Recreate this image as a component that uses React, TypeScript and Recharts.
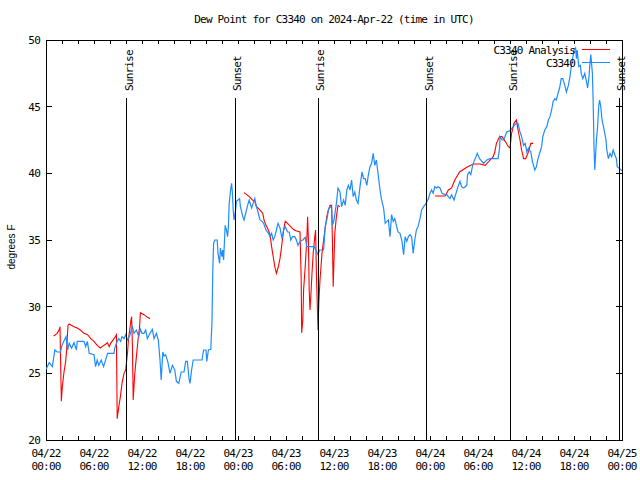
import React from 'react';
import { LineChart, Line, XAxis, YAxis, ReferenceLine, ReferenceArea, Legend } from 'recharts';

// Hours since 2024-04-22 00:00 UTC
const obsHours = [
  0, 0.4, 0.8, 1.1, 1.4, 1.8, 2.0, 2.3, 2.5, 2.7,
  2.9, 3.2, 3.5, 3.8, 3.9, 4.3, 4.75, 4.96, 5.17, 5.4,
  6.0, 6.2, 6.4, 6.6, 6.9, 7.2, 7.5, 7.7, 8.1, 8.5,
  8.6, 8.9, 9.1, 9.33, 9.5, 9.75, 9.96, 10.2, 10.5, 10.8,
  11.0, 11.3, 11.6, 11.8, 12.0, 12.25, 12.46, 12.67, 13.0, 13.3,
  13.5, 13.8, 14.04, 14.25, 14.4, 14.6, 14.75, 14.96, 15.25, 15.5,
  15.8, 16.1, 16.3, 16.6, 16.9, 17.25, 17.46, 17.67, 17.875, 18.0,
  18.2, 18.4, 18.8, 19.5, 19.7, 20.0, 20.1, 20.3, 20.6, 20.75,
  20.85, 20.95, 21.1, 21.4, 21.5, 21.7, 21.8, 22.0, 22.1, 22.2,
  22.4, 22.55, 22.7, 22.8, 22.9, 23.1, 23.2, 23.3, 23.4, 23.5,
  23.7, 23.8, 24.2, 24.3, 24.6, 24.75, 25.0, 25.2, 25.4, 25.7,
  25.9, 26.1, 26.3, 26.5, 26.75, 27.0, 27.2, 27.5, 27.8, 28.0,
  28.2, 28.4, 28.6, 28.8, 29.0, 29.25, 29.5, 29.7, 29.9, 30.2,
  30.4, 30.6, 30.8, 31.1, 31.3, 31.5, 31.75, 32.1, 32.4, 32.6,
  32.8, 33.2, 33.5, 33.75, 34.0, 34.2, 34.5, 34.7, 34.9, 35.1,
  35.3, 35.5, 35.7, 35.8, 36.0, 36.3, 36.5, 36.75, 36.95, 37.2,
  37.4, 37.6, 37.8, 38.0, 38.2, 38.4, 38.6, 38.8, 39.0, 39.25,
  39.5, 39.7, 39.9, 40.1, 40.3, 40.5, 40.7, 40.9, 41.1, 41.3,
  41.5, 41.75, 41.95, 42.2, 42.4, 42.6, 42.8, 43.0, 43.2, 43.4,
  43.6, 43.8, 44.0, 44.25, 44.5, 44.7, 44.9, 45.1, 45.3, 45.5,
  45.7, 45.9, 46.1, 46.3, 46.5, 46.75, 46.95, 47.2, 47.5, 47.8,
  48.0, 48.2, 48.4, 48.6, 48.8, 49.0, 49.25, 49.5, 49.9, 50.1,
  50.3, 50.5, 50.7, 51.0, 51.25, 51.5, 51.75, 51.95, 52.2, 52.4,
  52.6, 52.7, 52.9, 53.1, 53.3, 53.5, 53.75, 53.9, 54.2, 54.7,
  55.1, 55.5, 56.5, 56.7, 56.75, 57.0, 57.2, 57.6, 58.0, 58.4,
  58.8, 59.0, 59.25, 59.45, 59.7, 59.9, 60.1, 60.3, 60.6, 60.8,
  61.1, 61.3, 61.5, 61.75, 61.95, 62.1, 62.35, 62.6, 62.8, 63.0,
  63.2, 63.4, 63.6, 63.8, 64.0, 64.2, 64.4, 64.6, 64.85, 65.05,
  65.3, 65.5, 65.6, 65.8, 66.0, 66.2, 66.3, 66.4, 66.6, 66.8,
  66.9, 67.1, 67.35, 67.55, 67.7, 67.85, 68.0, 68.1, 68.3, 68.4,
  68.5, 68.6, 68.8, 68.95, 69.1, 69.2, 69.35, 69.5, 69.65, 69.85,
  70.0, 70.1, 70.3, 70.5, 70.7, 70.9, 71.1, 71.3, 71.4, 71.6,
  72.0,
];

const obsDewPoint = [
  25.3, 25.8, 25.5, 26.75, 26.6, 26.6, 27.1, 27.5, 27.75, 26.75,
  27.25, 26.9, 27.3, 26.75, 27.4, 27.4, 27.4, 27.0, 27.4, 26.5,
  26.4, 25.5, 26.0, 25.6, 26.0, 25.5, 26.1, 26.5, 26.5, 26.5,
  26.9, 27.4, 27.6, 27.4, 27.75, 27.6, 27.9, 27.5, 27.9, 28.5,
  28.0, 28.25, 27.75, 28.3, 28.0, 28.0, 28.25, 27.6, 28.0, 28.3,
  27.6, 28.0, 27.5, 26.0, 24.5, 26.6, 26.3, 26.4, 25.8, 25.0,
  25.6, 25.25, 24.4, 24.25, 25.1, 25.1, 25.9, 25.9, 24.6, 24.25,
  25.25, 26.0, 26.0, 26.0, 26.75, 26.75, 25.9, 26.75, 26.8, 28.9,
  32.75, 34.75, 35.0, 35.0, 34.0, 33.25, 34.4, 33.75, 34.25, 33.5,
  36.1, 35.75, 35.25, 36.0, 37.75, 38.9, 39.25, 38.5, 37.25, 36.5,
  37.25, 37.9, 38.1, 37.5, 36.75, 36.5, 37.1, 37.6, 38.0, 37.4,
  37.75, 38.1, 37.5, 37.1, 36.5, 36.4, 36.25, 35.75, 35.5, 35.25,
  35.5, 35.0, 35.25, 35.75, 36.25, 35.9, 35.1, 35.75, 36.0, 35.6,
  35.6, 35.0, 35.25, 35.25, 35.0, 34.6, 34.9, 35.0, 35.2, 34.5,
  34.5, 34.5, 34.5, 34.25, 33.9, 34.25, 34.25, 34.25, 36.0, 36.5,
  37.25, 37.5, 37.4, 36.1, 36.5, 37.75, 38.9, 38.6, 37.5, 38.0,
  37.6, 38.75, 39.1, 38.75, 39.5, 38.25, 38.6, 38.0, 37.75, 39.0,
  40.1, 39.6, 39.6, 39.1, 39.9, 40.5, 40.75, 41.5, 40.6, 41.0,
  40.0, 38.75, 38.0, 37.4, 36.25, 36.4, 36.5, 35.25, 36.9, 36.4,
  36.6, 36.1, 35.6, 35.5, 34.9, 33.9, 35.25, 34.9, 35.25, 35.4,
  35.25, 34.0, 35.0, 35.75, 36.0, 36.6, 37.25, 37.5, 37.75, 38.1,
  38.5, 38.75, 38.5, 39.0, 38.9, 39.0, 38.9, 38.5, 38.4, 38.4,
  38.25, 38.1, 38.4, 38.0, 38.5, 39.0, 39.4, 39.0, 38.9, 39.0,
  39.1, 39.9, 40.1, 39.9, 40.5, 40.9, 41.25, 41.5, 41.1, 40.75,
  41.0, 41.1, 41.1, 41.9, 42.75, 42.5, 42.5, 43.1, 43.2, 43.5,
  43.75, 43.75, 43.1, 42.75, 42.1, 42.25, 41.6, 41.9, 41.6, 40.9,
  40.25, 40.5, 41.1, 41.6, 42.0, 42.75, 43.25, 43.5, 44.0, 44.25,
  44.75, 45.4, 45.6, 45.5, 46.0, 46.4, 47.1, 47.1, 46.6, 46.1,
  46.6, 47.25, 47.75, 48.5, 49.25, 49.4, 48.6, 49.25, 48.0, 48.1,
  47.5, 47.1, 47.5, 46.9, 46.4, 47.1, 48.25, 48.9, 47.5, 45.25,
  42.0, 40.25, 42.5, 43.5, 45.1, 45.5, 45.0, 44.0, 43.6, 43.0,
  42.5, 41.75, 41.1, 41.5, 41.25, 41.75, 41.4, 41.1, 40.5, 40.4,
  40.2,
];

const anaHours = [
  0.96, 1.4, 1.67, 1.75, 1.83, 1.92, 2.04, 2.25, 2.46, 2.58,
  2.75, 2.9, 3.5, 3.9, 4.3, 4.75, 5.2, 5.6, 6.0, 6.4,
  6.8, 7.0, 7.5, 7.67, 7.9, 8.08, 8.5, 8.8, 8.85, 8.9,
  9.1, 9.3, 9.5, 9.75, 9.96, 10.2, 10.3, 10.6, 10.7, 10.8,
  10.9, 11.1, 11.3, 11.5, 11.7, 11.8, 12.25, 12.7, 13.0, 18.0,
  24.75, 25.1, 25.5, 25.8, 26.1, 26.3, 26.5, 26.8, 27.1, 27.25,
  27.5, 27.8, 28.0, 28.2, 28.4, 28.6, 28.8, 29.0, 29.25, 29.45,
  29.7, 29.9, 30.2, 30.5, 30.9, 31.25, 31.75, 31.9, 31.96, 32.1,
  32.2, 32.4, 32.6, 32.7, 32.8, 32.9, 33.0, 33.1, 33.25, 33.4,
  33.6, 33.7, 33.8, 34.0, 34.1, 34.25, 34.5, 34.7, 34.9, 35.1,
  35.3, 35.5, 35.7, 35.8, 35.9, 36.1, 36.3, 36.5, 36.75, 42.0,
  48.6, 49.9, 50.3, 50.7, 51.1, 51.7, 52.6, 53.4, 54.25, 54.9,
  55.5, 55.9, 56.1, 56.3, 56.7, 57.0, 57.4, 57.8, 58.0, 58.2,
  58.5, 58.8, 59.0, 59.25, 59.45, 59.7, 59.96, 60.3, 60.6, 60.9,
];

const anaDewPoint: (number | null)[] = [
  27.8, 28.0, 28.3, 28.5, 25.75, 22.9, 24.0, 25.1, 25.9, 26.75,
  28.6, 28.7, 28.5, 28.4, 28.25, 28.0, 27.9, 27.6, 27.4, 27.1,
  26.9, 27.0, 27.2, 27.3, 27.0, 27.25, 27.6, 27.9, 24.75, 21.6,
  22.5, 23.25, 24.25, 25.0, 25.25, 26.6, 27.5, 28.9, 29.25, 27.1,
  23.0, 25.0, 26.25, 27.5, 28.5, 29.55, 29.4, 29.2, 29.1, null,
  38.55, 38.4, 38.2, 38.0, 37.9, 37.5, 37.4, 37.2, 37.0, 36.5,
  36.1, 35.75, 35.4, 34.5, 33.75, 33.0, 32.5, 32.9, 33.6, 34.5,
  35.75, 36.4, 36.25, 36.05, 35.8, 35.7, 35.6, 32.0, 28.05, 29.0,
  31.25, 33.0, 35.0, 36.75, 35.0, 31.25, 29.75, 30.75, 32.5, 34.0,
  35.25, 35.75, 32.5, 28.25, 30.25, 32.0, 34.0, 35.0, 35.9, 36.75,
  37.25, 37.6, 37.6, 35.0, 31.5, 35.5, 36.75, 37.6, 37.5, null,
  38.3, 38.3, 38.75, 38.9, 39.5, 40.1, 40.45, 40.7, 40.7, 40.6,
  41.0, 41.25, 41.6, 42.25, 42.75, 42.75, 42.4, 42.0, 41.9, 43.0,
  43.75, 44.0, 43.25, 42.5, 41.75, 41.1, 41.1, 41.6, 42.25, 42.25,
];

const eventHours = [10.08, 23.63, 34.04, 47.58, 58.08, 71.67];
const eventNames = ['Sunrise', 'Sunset', 'Sunrise', 'Sunset', 'Sunrise', 'Sunset'];
const eventTop = 45.65;

const dayLabels = ['04/22', '04/23', '04/24', '04/25'];
const timeLabels = ['00:00', '06:00', '12:00', '18:00'];
const xTicks = [0, 2, 4, 6, 8, 10, 12, 14, 16, 18, 20, 22, 24, 26, 28, 30, 32, 34, 36,
  38, 40, 42, 44, 46, 48, 50, 52, 54, 56, 58, 60, 62, 64, 66, 68, 70, 72];
const yTicks = [20, 25, 30, 35, 40, 45, 50];

const titleText = 'Dew Point for C3340 on 2024-Apr-22 (time in UTC)';
const yLabelText = 'degrees F';
const obsName = 'C3340';
const anaName = 'C3340 Analysis';
const legendOrder = [anaName, obsName];

const obsData = obsHours.map((h, i) => ({ h, dp: obsDewPoint[i] }));
const anaData = anaHours.map((h, i) => ({ h, dp: anaDewPoint[i] }));

const PLOT_T = 40;
const PLOT_B = 440;
const PLOT_L = 46;
const PLOT_R = 622;
const MONO = '"DejaVu Sans Mono", "Liberation Mono", monospace';
const TXT = { fontFamily: MONO, fontSize: 11, letterSpacing: -0.8, fill: '#000' } as const;

const XTick = (props: any) => {
  const { x, payload } = props;
  const v: number = payload.value;
  const major = v % 6 === 0;
  const day = dayLabels[Math.floor(v / 24)];
  const time = timeLabels[Math.floor((v % 24) / 6)];
  return (
    <g>
      <line x1={x} x2={x} y1={PLOT_B} y2={PLOT_B - 4} stroke="#000" shapeRendering="crispEdges" />
      <line x1={x} x2={x} y1={PLOT_T} y2={PLOT_T + 4} stroke="#000" shapeRendering="crispEdges" />
      {major && (
        <text {...TXT} textAnchor="middle">
          <tspan x={x} y={457}>{day}</tspan>
          <tspan x={x} y={470}>{time}</tspan>
        </text>
      )}
    </g>
  );
};

const YTick = (props: any) => {
  const { y, payload } = props;
  return (
    <g>
      <line x1={PLOT_L} x2={PLOT_L + 6} y1={y} y2={y} stroke="#000" shapeRendering="crispEdges" />
      <line x1={PLOT_R} x2={PLOT_R - 6} y1={y} y2={y} stroke="#000" shapeRendering="crispEdges" />
      <text {...TXT} x={40} y={y + 4} textAnchor="end">{payload.value}</text>
    </g>
  );
};

const EventLabel = (props: any) => {
  const { viewBox, caption } = props;
  const x = viewBox.x + 6;
  const y = viewBox.y - 7;
  return (
    <text {...TXT} transform={`translate(${x},${y}) rotate(-90)`} textAnchor="start">
      {caption}
    </text>
  );
};

const LegendContent = (props: any) => {
  const items = [...(props.payload || [])].sort(
    (a: any, b: any) => legendOrder.indexOf(a.value) - legendOrder.indexOf(b.value)
  );
  return (
    <svg width={160} height={30} style={{ display: 'block' }}>
      {items.map((e: any, i: number) => (
        <g key={i}>
          <text {...TXT} x={105} y={14 + i * 13} textAnchor="end">{e.value}</text>
          <line x1={112} x2={140} y1={9.5 + i * 13} y2={9.5 + i * 13} stroke={e.color} strokeWidth={1} />
        </g>
      ))}
    </svg>
  );
};

export default function App() {
  return (
    <div style={{ position: 'absolute', left: 0, top: 0, width: 640, height: 480, background: '#fff' }}>
      <LineChart width={640} height={480} margin={{ top: 40, right: 18, bottom: 0, left: 0 }}>
        <XAxis
          type="number"
          dataKey="h"
          domain={[0, 72]}
          ticks={xTicks}
          interval={0}
          height={40}
          tickLine={false}
          axisLine={false}
          tick={<XTick />}
          allowDataOverflow
        />
        <YAxis
          type="number"
          domain={[20, 50]}
          ticks={yTicks}
          interval={0}
          width={46}
          tickLine={false}
          axisLine={false}
          tick={<YTick />}
          allowDataOverflow
        />
        <ReferenceArea x1={0} x2={72} y1={20} y2={50} fill="none" stroke="#000" strokeWidth={1} shapeRendering="crispEdges" ifOverflow="visible" />
        <Line
          data={anaData}
          dataKey="dp"
          name={anaName}
          type="linear"
          stroke="#ff0000"
          strokeWidth={1.1}
          dot={false}
          activeDot={false}
          isAnimationActive={false}
        />
        <Line
          data={obsData}
          dataKey="dp"
          name={obsName}
          type="linear"
          stroke="#1e8cff"
          strokeWidth={1.2}
          dot={false}
          activeDot={false}
          isAnimationActive={false}
        />
        {eventHours.map((h, i) => (
          <ReferenceLine
            key={i}
            segment={[{ x: h, y: 20 }, { x: h, y: eventTop }]}
            stroke="#000"
            strokeWidth={1}
            shapeRendering="crispEdges"
            ifOverflow="visible"
            label={<EventLabel caption={eventNames[i]} />}
          />
        ))}
        <Legend
          layout="horizontal"
          verticalAlign="middle"
          align="center"
          content={<LegendContent />}
          wrapperStyle={{ position: 'absolute', left: 470, top: 40, width: 160, height: 30 }}
        />
        <text {...TXT} x={334} y={23} textAnchor="middle">{titleText}</text>
        <text
          fontFamily='"Liberation Sans", Arial, sans-serif'
          fontSize={10}
          fill="#000"
          transform="translate(15,247) rotate(-90)"
          textAnchor="middle"
        >
          {yLabelText}
        </text>
      </LineChart>
    </div>
  );
}
